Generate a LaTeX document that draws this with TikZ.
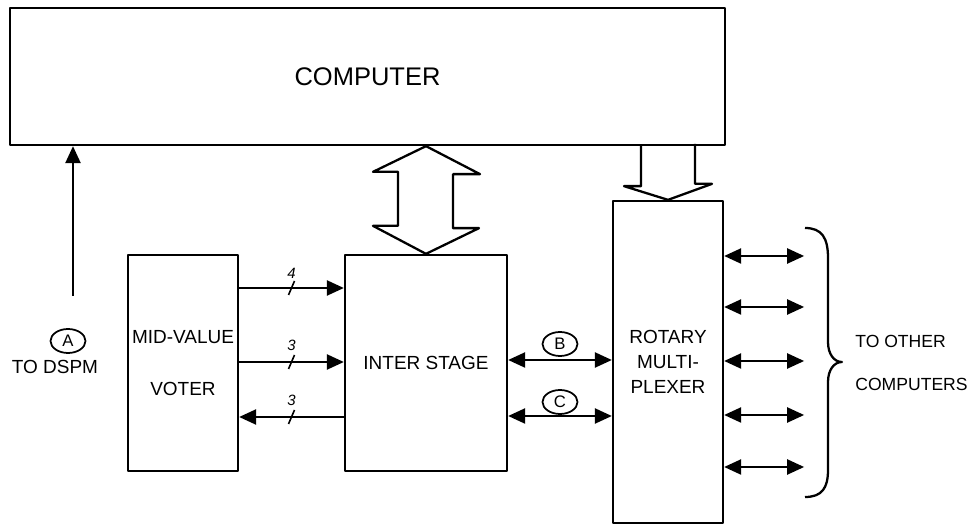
\documentclass[tikz,border=0pt]{standalone}
\usepackage{fontspec}
\setmainfont{Liberation Sans}
\usetikzlibrary{arrows.meta,calc,shapes.geometric}
\newcommand\lblfont{\fontsize{10.8}{13}\selectfont}
\newcommand\bigfont{\fontsize{14.5}{17}\selectfont}
\tikzset{
  blk/.style={draw,line width=1.3pt,inner sep=0pt,align=center,font=\lblfont},
  sig/.style={line width=1.3pt,-{Triangle[length=3.4mm,width=3mm]}},
  bisig/.style={line width=1.3pt,{Triangle[length=3.4mm,width=3mm]}-{Triangle[length=3.4mm,width=3mm]}},
  tag/.style={draw,ellipse,line width=1pt,inner sep=0pt,minimum width=7mm,minimum height=4.8mm,font=\fontsize{9.5}{10}\selectfont},
  num/.style={font=\fontsize{8.5}{9}\selectfont\itshape,inner sep=1pt}
}
\begin{document}
\begin{tikzpicture}[x=0.2mm,y=-0.2mm,line join=round]
  \useasboundingbox (0,0) rectangle (975,525);
  % blocks
  \node[blk,font=\bigfont,minimum width=143mm,minimum height=27.4mm] (comp) at (367.5,76.5) {COMPUTER};
  \node[blk,minimum width=22mm,minimum height=43.2mm] (voter) at (183,363) {MID-VALUE\\[16.6pt]VOTER};
  \node[blk,minimum width=32.4mm,minimum height=43.2mm] (inter) at (426,363) {INTER STAGE};
  \node[blk,minimum width=22mm,minimum height=64.4mm] (mux) at (668,362) {ROTARY\\[1.2pt]MULTI-\\[1.2pt]PLEXER};
  % input from DSPM
  \coordinate (dspm) at (73,296);
  \draw[sig] (dspm) -- (dspm |- comp.south);
  \node[tag] (tagA) at (68,341) {A};
  \node[font=\lblfont] (todspm) at (55,367) {TO DSPM};
  % computer <-> inter stage
  \draw[line width=1.3pt] (inter.north |- comp.south) -- ++(54,28) -- ++(-27,0) -- ++(0,54)
    -- ++(26,0) -- (inter.north) -- ++(-53,-28) -- ++(25,0) -- ++(0,-54) -- ++(-25,0) -- cycle;
  % computer -> multiplexer
  \draw[line width=1.3pt] ($(mux.north |- comp.south)+(-27,0)$) -- ++(0,40) -- ++(-17,0)
    -- (mux.north) -- ++(44,-16) -- ++(-17,0) -- ++(0,-40);
  % voter <-> inter stage
  \coordinate (r1) at (0,288);
  \coordinate (r2) at (0,362);
  \coordinate (r3) at (0,417);
  \draw[sig] (voter.east |- r1) -- node[num,above=4pt]{4} coordinate[midway] (m1) (inter.west |- r1);
  \draw[sig] (voter.east |- r2) -- node[num,above=5pt]{3} coordinate[midway] (m2) (inter.west |- r2);
  \draw[sig] (inter.west |- r3) -- node[num,above=5pt]{3} coordinate[midway] (m3) (voter.east |- r3);
  \foreach \m in {m1,m2,m3}
    \draw[line width=0.9pt] (\m) ++(-3,7) -- ++(6,-14);
  % inter stage <-> multiplexer
  \draw[bisig] (inter.east |- 0,360) -- (mux.west |- 0,360);
  \node[tag] (tagB) at (560,344) {B};
  \draw[bisig] (inter.east |- 0,416) -- (mux.west |- 0,416);
  \node[tag] (tagC) at (560,402) {C};
  % to other computers
  \foreach \y in {256,307,361,415,467}
    \draw[bisig] (mux.east |- 0,\y) -- ++(80,0);
  \draw[line width=1.3pt] (805,228) .. controls (822,228) and (828,238) .. (828,258) -- (828,342)
    .. controls (828,354) and (834,362) .. (842,362) .. controls (834,362) and (828,370) .. (828,382)
    -- (828,470) .. controls (828,488) and (822,497) .. (805,497);
  \node[font=\fontsize{10}{12}\selectfont,anchor=west,align=left,inner sep=0pt] (others) at (855,363) {TO OTHER\\[12.5pt]COMPUTERS};
\end{tikzpicture}
\end{document}
